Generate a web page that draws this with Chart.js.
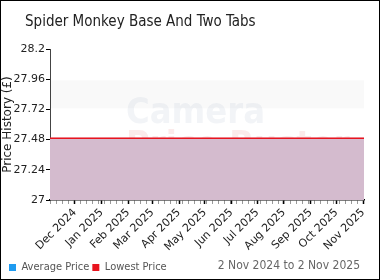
<!DOCTYPE html>
<html>
<head>
<meta charset="utf-8">
<script src="https://cdn.jsdelivr.net/npm/chart.js@4.4.1/dist/chart.umd.min.js"></script>
<style>
  html, body { margin: 0; padding: 0; background: #fff; }
  #box { width: 378px; height: 278px; border: 1px solid #000; position: relative; }
  canvas { display: block; }
</style>
</head>
<body>
<div id="box"><canvas id="grafico" width="378" height="278"></canvas></div>
<script>
// datos del grafico
const titulo = 'Spider Monkey Base And Two Tabs';
const fechas = ['2024-11-02', '2025-11-02'];
const precioMedio = [27.49, 27.49];
const precioMinimo = [27.49, 27.49];
const etiquetasMeses = ['Dec 2024', 'Jan 2025', 'Feb 2025', 'Mar 2025', 'Apr 2025', 'May 2025',
  'Jun 2025', 'Jul 2025', 'Aug 2025', 'Sep 2025', 'Oct 2025', 'Nov 2025'];
const inicioMeses = ['2024-12-01', '2025-01-01', '2025-02-01', '2025-03-01', '2025-04-01', '2025-05-01',
  '2025-06-01', '2025-07-01', '2025-08-01', '2025-09-01', '2025-10-01', '2025-11-01'];
const ticksY = [27, 27.24, 27.48, 27.72, 27.96, 28.2];
const rangoTexto = '2 Nov 2024 to 2 Nov 2025';

const dia0 = Date.parse(fechas[0]);
const aDia = f => Math.round((Date.parse(f) - dia0) / 86400000);
const diaFin = aDia(fechas[fechas.length - 1]);
const diasMeses = inicioMeses.map(aDia);

// ticks: meses (mayores) + semanas (menores)
const ticksX = [];
for (let d = 0; d <= diaFin; d += 7) ticksX.push(d);
diasMeses.forEach(d => { if (!ticksX.includes(d)) ticksX.push(d); });
ticksX.sort((a, b) => a - b);

const fuente = '"DejaVu Sans Condensed", "DejaVu Sans"';

const extras = {
  id: 'extras',
  beforeDatasetsDraw(chart) {
    const { ctx, chartArea: a } = chart;
    ctx.save();
    const y1 = chart.scales.y.getPixelForValue(27.96);
    const y2 = chart.scales.y.getPixelForValue(27.72);
    ctx.fillStyle = 'rgba(0,0,0,0.025)';
    ctx.fillRect(a.left, y1 + 1, a.right - a.left, y2 - y1 - 2);
    ctx.font = 'bold 36px ' + fuente;
    ctx.fillStyle = 'rgba(150,165,190,0.12)';
    ctx.fillText('Camera', 125, 113);
    ctx.fillStyle = 'rgba(220,60,60,0.10)';
    ctx.fillText('Price Buster', 125, 146);
    ctx.restore();
  },
  afterDraw(chart) {
    const { ctx } = chart;
    ctx.save();
    ctx.font = '15px ' + fuente;
    ctx.fillStyle = '#222';
    ctx.textBaseline = 'middle';
    ctx.fillText(titulo, 24, 21);
    ctx.font = '12px ' + fuente;
    ctx.fillStyle = '#666';
    ctx.textAlign = 'right';
    ctx.fillText(rangoTexto, 359, 265);
    ctx.restore();
  }
};

new Chart(document.getElementById('grafico'), {
  type: 'line',
  data: {
    datasets: [
      {
        label: 'Average Price',
        data: fechas.map((f, i) => ({ x: aDia(f), y: precioMedio[i] })),
        borderColor: '#d09cbc',
        borderWidth: 1,
        backgroundColor: '#1e9bf0',
        fill: false,
        pointRadius: 0,
        order: 2
      },
      {
        label: 'Lowest Price',
        data: fechas.map((f, i) => ({ x: aDia(f), y: precioMinimo[i] })),
        borderColor: '#e8141e',
        borderWidth: 1.5,
        backgroundColor: '#e8141e',
        fill: { target: 'origin', above: 'rgba(212,187,206,1)' },
        pointRadius: 0,
        order: 1
      }
    ]
  },
  options: {
    responsive: false,
    animation: false,
    layout: { padding: { top: 48, left: 5, right: 15, bottom: -4 } },
    plugins: {
      legend: {
        position: 'bottom',
        align: 'start',
        labels: {
          boxWidth: 7, boxHeight: 7, padding: 3,
          color: '#555',
          font: { size: 11, family: fuente },
          generateLabels: chart => chart.data.datasets.map((ds, i) => ({
            text: ds.label, fillStyle: i === 0 ? '#1e9bf0' : '#e8141e',
            strokeStyle: 'transparent', lineWidth: 0, datasetIndex: i, fontColor: '#555'
          }))
        }
      },
      tooltip: { enabled: false }
    },
    scales: {
      x: {
        type: 'linear',
        min: 0,
        max: diaFin,
        afterBuildTicks: s => { s.ticks = ticksX.map(v => ({ value: v })); },
        afterFit: s => { s.height = 59; },
        ticks: {
          autoSkip: false,
          maxRotation: 45, minRotation: 45,
          color: '#222',
          padding: 2,
          font: { size: 11, family: '"DejaVu Sans"' },
          callback: v => { const k = diasMeses.indexOf(v); return k >= 0 ? etiquetasMeses[k] : ''; }
        },
        grid: {
          drawOnChartArea: false,
          tickLength: 4,
          tickColor: c => (c.tick && diasMeses.includes(c.tick.value)) ? '#000' : '#999',
          tickWidth: c => (c.tick && diasMeses.includes(c.tick.value)) ? 1.5 : 1
        },
        border: { color: '#000', width: 1.5 }
      },
      y: {
        min: 27,
        max: 28.2,
        afterBuildTicks: s => { s.ticks = ticksY.map(v => ({ value: v })); },
        afterFit: s => { s.width = 44; },
        title: {
          display: true, text: 'Price History (£)', color: '#222',
          font: { size: 12, family: '"DejaVu Sans"' }, padding: { top: -5, bottom: 0 }
        },
        ticks: {
          color: '#222',
          padding: 1,
          font: { size: 11, family: '"DejaVu Sans"' },
          callback: v => String(+v.toFixed(2))
        },
        grid: { drawOnChartArea: false, tickLength: 4, tickColor: '#000' },
        border: { color: '#444', width: 1, dash: [3, 1] }
      }
    }
  },
  plugins: [extras]
});
</script>
</body>
</html>
